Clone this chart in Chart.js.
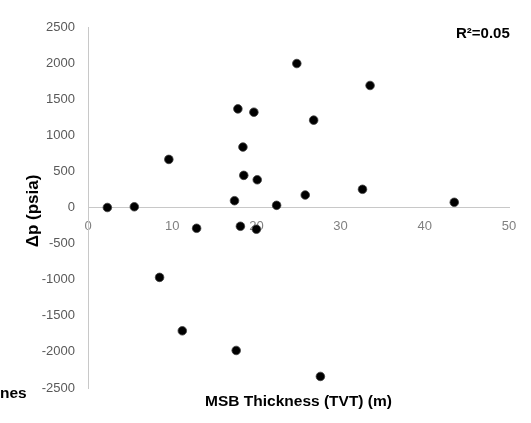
<!DOCTYPE html>
<html><head><meta charset="utf-8">
<script src="https://cdn.jsdelivr.net/npm/chart.js@4/dist/chart.umd.min.js"></script>
<style>html,body{margin:0;padding:0;background:#fff;}#wrap{width:531px;height:423px;position:relative;}</style>
</head><body><div id="wrap"><canvas id="c" width="531" height="423"></canvas></div>
<script>
// Data
const msbThickness = [2.3, 5.5, 9.6, 8.5, 11.2, 12.9, 17.4, 18.1, 18.5, 18.4, 20.1, 20.0, 22.4, 25.8, 32.6, 43.5, 17.8, 19.7, 24.8, 26.8, 33.5, 17.6, 27.6];
const deltaP       = [0, 10, 666, -968, -1708, -288, 94, -260, 445, 837, 384, -301, 30, 173, 252, 72, 1366, 1320, 1994, 1210, 1690, -1980, -2340];
const xTickValues = [0, 10, 20, 30, 40, 50];
const yTickValues = [-2500, -2000, -1500, -1000, -500, 0, 500, 1000, 1500, 2000, 2500];
const xAxisTitle = 'MSB Thickness (TVT) (m)';
const yAxisTitle = 'Δp (psia)';
const rSquaredLabel = 'R²=0.05';
const clippedLabel = 'nes';

const FONT = "'Liberation Sans', Arial, sans-serif";

const textPlugin = {
  id: 'texts',
  afterDraw(chart) {
    const ctx = chart.ctx;
    ctx.save();
    ctx.fillStyle = '#000';
    // y title
    ctx.save();
    ctx.translate(38, 211);
    ctx.rotate(-Math.PI / 2);
    ctx.font = 'bold 17px ' + FONT;
    ctx.textAlign = 'center';
    ctx.textBaseline = 'alphabetic';
    ctx.fillText(yAxisTitle, 0, 0);
    ctx.restore();
    // x title
    ctx.font = 'bold 15.5px ' + FONT;
    ctx.textAlign = 'center';
    ctx.textBaseline = 'alphabetic';
    ctx.fillText(xAxisTitle, 298.5, 406);
    // R squared
    ctx.font = 'bold 15px ' + FONT;
    ctx.textAlign = 'left';
    ctx.fillText(rSquaredLabel, 456, 37.5);
    // clipped legend text
    ctx.font = 'bold 15.5px ' + FONT;
    ctx.fillText(clippedLabel, 0, 397.5);
    ctx.restore();
  }
};

new Chart(document.getElementById('c'), {
  type: 'scatter',
  data: {
    datasets: [{
      data: msbThickness.map((x, i) => ({x: x, y: deltaP[i]})),
      backgroundColor: '#000',
      borderColor: '#404040',
      borderWidth: 0.8,
      pointRadius: 4.3,
      pointHoverRadius: 4.3
    }]
  },
  options: {
    responsive: false,
    animation: false,
    devicePixelRatio: 1,
    layout: { padding: { left: 0, right: 22, top: 27, bottom: 35 } },
    plugins: { legend: { display: false }, tooltip: { enabled: false } },
    scales: {
      x: {
        type: 'linear',
        position: { y: 0 },
        min: 0, max: 50,
        afterBuildTicks: s => { s.ticks = xTickValues.map(v => ({ value: v })); },
        grid: { display: false, drawTicks: false },
        border: { display: true, color: '#c8c8c8', width: 1 },
        ticks: { font: { family: FONT, size: 13 }, color: '#808080', padding: 11, maxRotation: 0, callback: v => String(v) }
      },
      y: {
        type: 'linear',
        position: 'left',
        min: -2500, max: 2500,
        afterBuildTicks: s => { s.ticks = yTickValues.map(v => ({ value: v })); },
        afterFit: s => { s.width = 88; },
        grid: { display: false, drawTicks: false },
        border: { display: true, color: '#c8c8c8', width: 1 },
        ticks: { font: { family: FONT, size: 13 }, color: '#595959', padding: 13, callback: v => String(v) }
      }
    }
  },
  plugins: [textPlugin]
});
</script>
</body></html>
